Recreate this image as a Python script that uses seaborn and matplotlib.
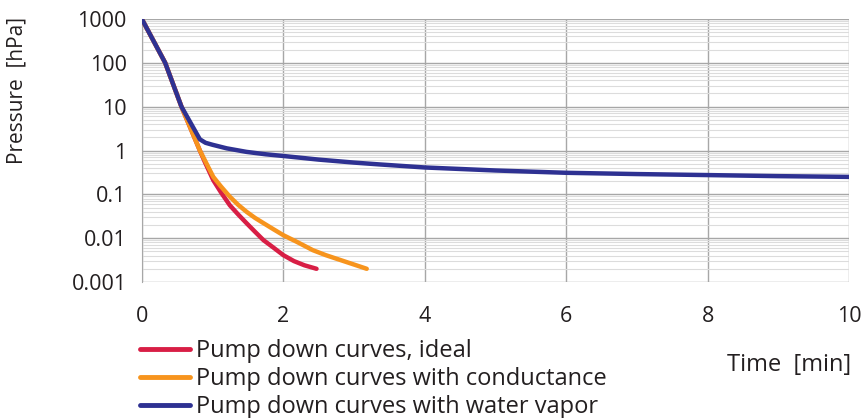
import matplotlib
matplotlib.use("Agg")
import matplotlib.pyplot as plt
import matplotlib.ticker as mticker
import numpy as np
import pandas as pd
import seaborn as sns

# ---- data ----
ideal_t = [0, 0.18, 0.33, 0.56, 0.82, 0.89, 1.01, 1.12, 1.245, 1.36, 1.48, 1.6, 1.72,
           1.86, 2.0, 2.15, 2.3, 2.47]
ideal_p = [1000, 285, 100, 10, 1.0, 0.55, 0.21, 0.11, 0.056, 0.035, 0.022, 0.014, 0.009,
           0.0061, 0.0041, 0.003, 0.0024, 0.002]

cond_t = [0, 0.18, 0.33, 0.56, 0.82, 0.89, 1.01, 1.12, 1.245, 1.36, 1.48, 1.6, 1.72,
          1.86, 2.0, 2.2, 2.42, 2.6, 2.8, 3.0, 3.18]
cond_p = [1000, 285, 100, 10, 1.0, 0.6, 0.25, 0.15, 0.088, 0.058, 0.04, 0.029, 0.022,
          0.016, 0.0117, 0.0081, 0.0053, 0.0041, 0.0032, 0.0025, 0.002]

vap_t = [0, 0.18, 0.33, 0.56, 0.82, 0.9, 1.0, 1.2, 1.48, 1.75, 2.0, 2.5, 3.0, 3.37,
         4.0, 5.0, 6.0, 7.0, 8.0, 9.0, 10.0]
vap_p = [1000, 285, 100, 10, 1.8, 1.5, 1.35, 1.12, 0.93, 0.82, 0.75, 0.62, 0.53, 0.48,
         0.41, 0.35, 0.31, 0.29, 0.275, 0.26, 0.25]

labels = ["Pump down curves, ideal",
          "Pump down curves with conductance",
          "Pump down curves with water vapor"]
colors = ["#d81e45", "#f7941d", "#2e3192"]

x_ticks = [0, 2, 4, 6, 8, 10]
y_ticks = [0.001, 0.01, 0.1, 1, 10, 100, 1000]
y_tick_labels = ["0.001", "0.01", "0.1", "1", "10", "100", "1000"]

df = pd.concat([
    pd.DataFrame({"t": ideal_t, "p": ideal_p, "s": labels[0]}),
    pd.DataFrame({"t": cond_t, "p": cond_p, "s": labels[1]}),
    pd.DataFrame({"t": vap_t, "p": vap_p, "s": labels[2]}),
], ignore_index=True)

sns.set_style("white")
plt.rcParams["font.family"] = ["Open Sans", "DejaVu Sans"]
txt = "#231f20"

fig = plt.figure(figsize=(8.65, 4.18), dpi=100)
ax = fig.add_axes([0.164, 0.3254, 0.8175, 0.6291])

sns.lineplot(data=df, x="t", y="p", hue="s", palette=dict(zip(labels, colors)),
             hue_order=labels, sort=False, estimator=None,
             linewidth=3.2, ax=ax, legend=False, zorder=3)
for ln in ax.lines:
    ln.set_solid_joinstyle("round")
    ln.set_solid_capstyle("round")

ax.set_yscale("log")
ax.set_xlim(0, 10)
ax.set_ylim(0.001, 1000)
ax.set_xticks(x_ticks)
ax.set_xticklabels([str(v) for v in x_ticks])
ax.set_yticks(y_ticks)
ax.set_yticklabels(y_tick_labels)
ax.yaxis.set_minor_locator(mticker.LogLocator(base=10, subs=np.arange(2, 10)))
ax.yaxis.set_minor_formatter(mticker.NullFormatter())

ax.grid(which="major", axis="both", color="#a7a7a7", linewidth=1.0, zorder=0)
ax.grid(which="minor", axis="y", color="#dcdcdc", linewidth=0.8, zorder=0)
ax.set_axisbelow(True)

for side in ["top", "right", "bottom"]:
    ax.spines[side].set_visible(False)
ax.spines["left"].set_color("#a7a7a7")
ax.tick_params(axis="both", which="major", length=7, color="#a7a7a7",
               labelsize=15.5, labelcolor=txt, pad=4)
ax.tick_params(axis="y", which="minor", length=0)
ax.tick_params(axis="x", pad=10)

ax.set_xlabel("")
ax.set_ylabel("Pressure  [hPa]", fontsize=15, color=txt)
ax.yaxis.set_label_coords(-0.162, 0.73)
fig.text(0.984, 0.127, "Time  [min]", ha="right", va="center", fontsize=17, color=txt)

handles = [plt.Line2D([], [], color=c, linewidth=3.5, solid_capstyle="round") for c in colors]
fig.legend(handles, labels, loc="upper left", bbox_to_anchor=(0.162, 0.189),
           frameon=False, fontsize=17, labelcolor=txt, handlelength=2.1,
           handletextpad=0.25, labelspacing=0.18, borderaxespad=0, borderpad=0)

fig.savefig("out.png", dpi=100)
